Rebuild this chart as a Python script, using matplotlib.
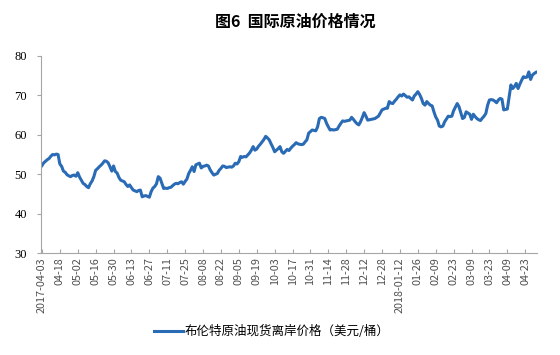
"""Brent crude spot price chart (图6 国际原油价格情况)."""

import matplotlib
matplotlib.use("Agg")
import matplotlib.pyplot as plt
from matplotlib.lines import Line2D

plt.rcParams["font.family"] = ["Noto Sans CJK SC", "DejaVu Sans"]

# Daily Brent spot price (USD/bbl), one value per trading day from 2017-04-03
brent_price = [
    52.2, 52.9, 53.3, 53.7, 54.0, 54.6, 55.0, 54.9, 55.1, 55.0,
    52.6, 52.0, 50.8, 50.5, 49.9, 49.6, 49.4, 49.7, 49.8, 49.5,
    50.4, 49.3, 48.5, 47.7, 47.4, 46.9, 46.6, 47.6, 48.3, 49.4,
    51.0, 51.4, 51.9, 52.3, 52.8, 53.4, 53.3, 52.9, 51.9, 50.8,
    52.1, 50.7, 50.3, 49.2, 48.5, 48.3, 48.1, 47.4, 46.9, 47.3,
    46.6, 46.0, 45.8, 45.6, 45.9, 46.0, 44.3, 44.5, 44.6, 44.4,
    44.2, 45.6, 46.5, 46.9, 47.6, 49.4, 49.0, 47.7, 46.4, 46.5,
    46.4, 46.6, 46.7, 47.1, 47.5, 47.7, 47.6, 47.9, 48.1, 47.5,
    48.2, 48.8, 50.2, 51.0, 51.9, 50.7, 52.4, 52.6, 52.8, 51.6,
    52.0, 52.1, 52.3, 52.1, 51.1, 50.4, 49.8, 50.0, 50.2, 51.0,
    51.5, 52.1, 52.0, 51.7, 51.8, 51.9, 51.8, 52.1, 52.8, 52.6,
    53.2, 54.5, 54.3, 54.5, 54.4, 54.9, 55.4, 56.1, 57.0, 56.1,
    56.4, 57.1, 57.6, 58.2, 58.8, 59.6, 59.2, 58.7, 57.7, 56.8,
    55.7, 56.1, 56.5, 57.0, 55.7, 55.3, 55.8, 56.3, 56.0, 56.6,
    57.1, 57.5, 58.0, 57.7, 57.6, 57.5, 57.6, 58.2, 58.7, 60.4,
    60.8, 61.2, 61.1, 61.0, 62.0, 64.1, 64.4, 64.3, 64.1, 62.9,
    62.0, 61.2, 61.3, 61.2, 61.3, 61.4, 62.2, 62.9, 63.5, 63.4,
    63.5, 63.6, 63.7, 64.4, 63.9, 63.3, 62.8, 62.5, 63.3, 64.4,
    65.6, 64.7, 63.7, 63.8, 63.9, 64.0, 64.1, 64.4, 64.7, 65.5,
    66.3, 66.5, 66.7, 66.7, 68.4, 68.0, 67.9, 68.5, 69.0, 69.6,
    70.1, 69.8, 70.3, 69.9, 69.5, 69.6, 69.2, 68.8, 69.8, 70.3,
    70.9, 70.2, 69.2, 67.9, 67.5, 68.4, 67.9, 67.5, 67.3, 65.8,
    64.5, 63.7, 62.2, 62.0, 62.2, 63.3, 64.0, 64.7, 64.6, 64.7,
    66.1, 67.0, 67.9, 67.1, 65.6, 64.1, 64.4, 65.8, 65.5, 65.2,
    63.9, 65.2, 64.6, 64.1, 63.8, 63.6, 64.2, 64.7, 65.4, 67.5,
    68.8, 68.9, 68.8, 68.5, 68.1, 68.8, 69.2, 69.0, 66.3, 66.4,
    66.5, 69.6, 72.6, 71.7, 72.2, 73.0, 71.7, 72.8, 73.8, 74.7,
    74.5, 74.6, 75.9, 74.0, 75.1, 75.5, 75.8,
]

# Axis labels shown every 10 trading days
tick_labels = [
    "2017-04-03", "04-18", "05-02", "05-16", "05-30", "06-13", "06-27",
    "07-11", "07-25", "08-08", "08-22", "09-05", "09-19", "10-03",
    "10-17", "10-31", "11-14", "11-28", "12-12", "12-28", "2018-01-12",
    "01-26", "02-09", "02-23", "03-09", "03-23", "04-09", "04-23",
]
tick_step = 10

line_color = "#2A6BB5"
axis_color = "#A6A6A6"

fig = plt.figure(figsize=(5.6, 3.55), dpi=100)
ax = fig.add_axes([0.073, 0.2865, 0.886, 0.5565])

ax.plot(range(len(brent_price)), brent_price, color=line_color, linewidth=2.2,
        solid_joinstyle="round")

ax.set_xlim(-0.6, len(brent_price) - 0.4)
ax.set_ylim(30, 80)
ax.set_yticks(range(30, 81, 10))
ax.set_yticklabels([str(v) for v in range(30, 81, 10)],
                   fontfamily="Liberation Serif", fontsize=9)

ax.set_xticks([i * tick_step for i in range(len(tick_labels))])
ax.set_xticklabels(tick_labels, rotation=90, fontsize=7.8, color="#505050",
                   va="top", ha="center")

for side in ("top", "right"):
    ax.spines[side].set_visible(False)
for side in ("left", "bottom"):
    ax.spines[side].set_color(axis_color)
    ax.spines[side].set_linewidth(0.8)

ax.tick_params(axis="y", direction="out", length=3, color=axis_color, pad=7)
ax.tick_params(axis="x", direction="in", length=3, color=axis_color, pad=3)

fig.text(0.528, 0.939, "图6  国际原油价格情况", ha="center", va="center",
         fontsize=11.5, fontweight="bold")

handle = Line2D([], [], color=line_color, linewidth=2.2)
fig.legend([handle], ["布伦特原油现货离岸价格（美元/桶）"], loc="center",
           bbox_to_anchor=(0.486, 0.065), frameon=False, fontsize=9,
           handlelength=2.3, handletextpad=0.15)

fig.savefig("out.png", dpi=100)
